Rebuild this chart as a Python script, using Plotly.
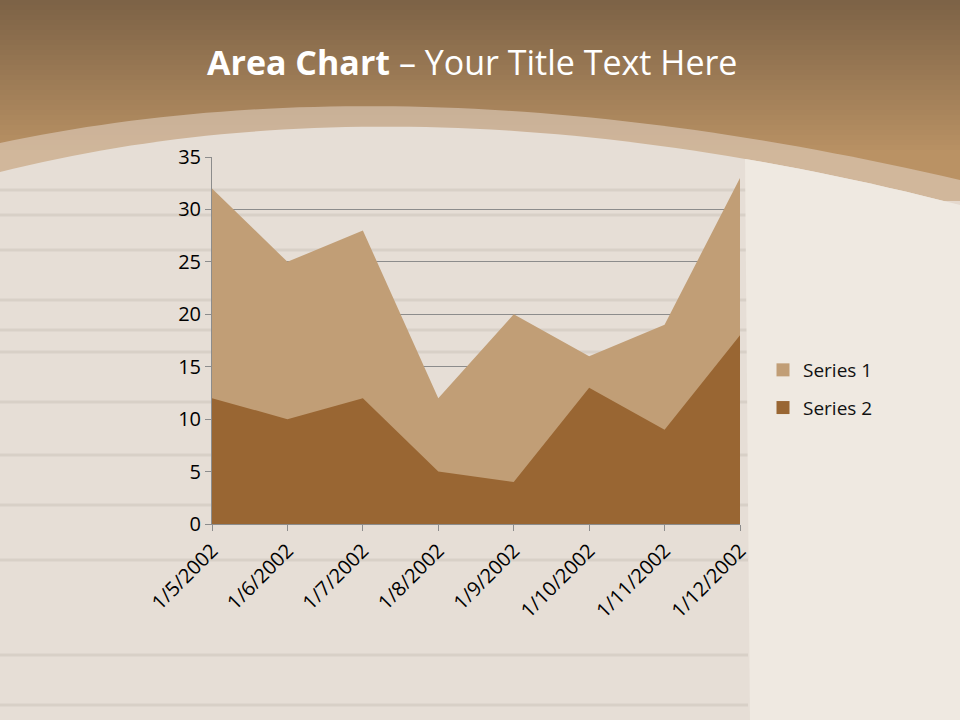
import numpy as np
import plotly.graph_objects as go

# ---- data ----
categories = ["1/5/2002", "1/6/2002", "1/7/2002", "1/8/2002",
              "1/9/2002", "1/10/2002", "1/11/2002", "1/12/2002"]
series1 = [32, 25, 28, 12, 20, 16, 19, 33]
series2 = [12, 10, 12, 5, 4, 13, 9, 18]
series_names = ["Series 1", "Series 2"]
y_ticks = [0, 5, 10, 15, 20, 25, 30, 35]

# ---- layout geometry (pixels) ----
W, H = 960, 720
L, R, T, B = 212, 740, 157, 524
PW, PH = R - L, B - T

def px(x):
    return (x - L) / PW

def py(y):
    return (B - y) / PH

COL1 = "#c19e76"
COL2 = "#996633"
FONT = "Open Sans, Lato, sans-serif"

shapes = []

# background gradient (top brown)
top = np.array([125, 99, 71])
bot = np.array([186, 146, 100])
n = 40
for i in range(n):
    y0 = i * 5
    c = top + (bot - top) * min(1, i / 30)
    shapes.append(dict(type="rect", xref="paper", yref="paper", layer="below",
                       x0=px(0), x1=px(W), y0=py(y0), y1=py(y0 + 6),
                       fillcolor="rgb(%d,%d,%d)" % tuple(c.astype(int)),
                       line=dict(width=0)))

def bez(p0, pc, p2, ts):
    pts = []
    for t in ts:
        x = (1 - t) ** 2 * p0[0] + 2 * t * (1 - t) * pc[0] + t ** 2 * p2[0]
        y = (1 - t) ** 2 * p0[1] + 2 * t * (1 - t) * pc[1] + t ** 2 * p2[1]
        pts.append((x, y))
    return pts

def path_from(pts):
    s = "M %f,%f " % (px(pts[0][0]), py(pts[0][1]))
    for x, y in pts[1:]:
        s += "L %f,%f " % (px(x), py(y))
    return s + "Z"

ts = np.linspace(0, 1, 60)
outer = bez((0, 143), (420, 54), (960, 180), ts)
inner = bez((0, 172), (420, 67), (960, 205), ts)

shapes.append(dict(type="path", xref="paper", yref="paper", layer="below",
                   path=path_from(outer + [(W, H), (0, H)]),
                   fillcolor="rgba(228,214,200,0.55)", line=dict(width=0)))
shapes.append(dict(type="path", xref="paper", yref="paper", layer="below",
                   path=path_from(inner + [(W, H), (0, H)]),
                   fillcolor="#e6ded6", line=dict(width=0)))

# wood stripes
for yy in [190, 215, 250, 300, 330, 352, 402, 455, 505, 560, 655, 705]:
    shapes.append(dict(type="line", xref="paper", yref="paper", layer="below",
                       x0=px(0), x1=px(748), y0=py(yy), y1=py(yy),
                       line=dict(color="rgba(200,190,182,0.45)", width=3)))

# fabric region on the right
fab = [(x, y) for x, y in inner if x >= 745]
fab_pts = [(745, fab[0][1])] + fab + [(W, H), (750, H)]
shapes.append(dict(type="path", xref="paper", yref="paper", layer="below",
                   path=path_from(fab_pts),
                   fillcolor="#efe9e1", line=dict(width=0)))

fig = go.Figure()
fig.add_trace(go.Scatter(x=categories, y=series1, name=series_names[0],
                         mode="lines", fill="tozeroy", fillcolor=COL1,
                         line=dict(width=0, color=COL1), showlegend=False,
                         hoverinfo="skip"))
fig.add_trace(go.Scatter(x=categories, y=series2, name=series_names[1],
                         mode="lines", fill="tozeroy", fillcolor=COL2,
                         line=dict(width=0, color=COL2), showlegend=False,
                         hoverinfo="skip"))
# legend entries
for nm, c in zip(series_names, [COL1, COL2]):
    fig.add_trace(go.Scatter(x=[None], y=[None], name=nm, mode="markers",
                             legendgroup=nm,
                             marker=dict(symbol="square", size=13, color=c)))

fig.update_layout(
    width=W, height=H,
    margin=dict(l=L, r=W - R, t=T, b=H - B, pad=0),
    paper_bgcolor="#e6ded6",
    plot_bgcolor="rgba(0,0,0,0)",
    shapes=shapes,
    showlegend=True,
    legend=dict(x=px(763), y=py(389), xanchor="left", yanchor="middle",
                bgcolor="rgba(0,0,0,0)", font=dict(family=FONT, size=19, color="#111111"),
                itemwidth=30, tracegroupgap=10, traceorder="grouped"),
    annotations=[dict(
        text="<b>Area Chart</b> – Your Title Text Here",
        xref="paper", yref="paper", x=px(472), y=py(62),
        xanchor="center", yanchor="middle", showarrow=False,
        font=dict(family=FONT, size=34, color="white"))],
    xaxis=dict(type="category", range=[0, len(categories) - 1],
               showgrid=False, showline=True, linecolor="#8c8c8c", linewidth=1,
               ticks="outside", ticklen=6, tickcolor="#8c8c8c",
               tickangle=-45, tickfont=dict(family=FONT, size=20, color="black"),
               zeroline=False),
    yaxis=dict(range=[0, 35], tickvals=y_ticks, showgrid=True,
               gridcolor="#8c8c8c", gridwidth=1,
               showline=True, linecolor="#8c8c8c", linewidth=1,
               ticks="outside", ticklen=6, tickcolor="#8c8c8c",
               tickfont=dict(family=FONT, size=20, color="black"),
               zeroline=False),
)

fig.write_html("out.html", config={"displayModeBar": False},
               post_script="document.body.style.margin='0';document.body.style.overflow='hidden';")
